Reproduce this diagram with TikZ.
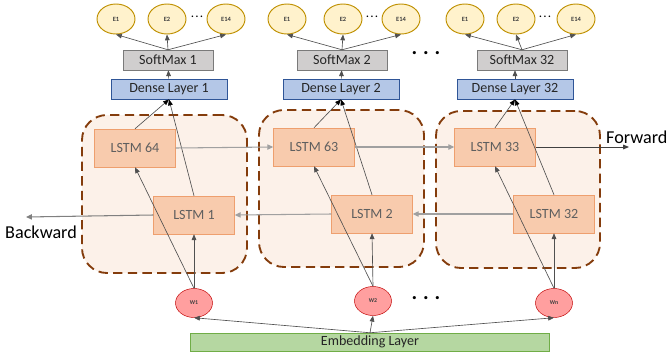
\documentclass[tikz,border=0pt]{standalone}
\usepackage{fontspec}
\setmainfont{Carlito}
\usetikzlibrary{arrows.meta,shapes.geometric}

\definecolor{lstmfill}{HTML}{F8CBAD}
\definecolor{lstmline}{HTML}{EE9F6E}
\definecolor{lstmtext}{HTML}{5F5F5F}
\definecolor{grpfill}{HTML}{FCF1E9}
\definecolor{grpline}{HTML}{843C0C}
\definecolor{densefill}{HTML}{B4C7E7}
\definecolor{denseline}{HTML}{2F5597}
\definecolor{smfill}{HTML}{D0CECE}
\definecolor{smline}{HTML}{7A7A7A}
\definecolor{efill}{HTML}{FFF2CC}
\definecolor{eline}{HTML}{BF9000}
\definecolor{wfill}{HTML}{FF9F9F}
\definecolor{wline}{HTML}{C00000}
\definecolor{embfill}{HTML}{B5D7A1}
\definecolor{embline}{HTML}{70AD47}
\definecolor{arrgray}{HTML}{505050}
\definecolor{arrlight}{HTML}{A0A0A0}

\newcommand{\pxu}{0.03cm}

\begin{document}
\begin{tikzpicture}[x=\pxu,y=-\pxu,
  grp/.style={draw=grpline,fill=grpfill,line width=1.6pt,dash pattern=on 8pt off 4.5pt,rounded corners=0.75cm,inner sep=0pt},
  lstm/.style={draw=lstmline,fill=lstmfill,inner sep=0pt,minimum width=81*\pxu,minimum height=38*\pxu,text=lstmtext,font=\fontsize{12}{14}\selectfont},
  dense/.style={draw=denseline,fill=densefill,line width=0.8pt,inner sep=0pt,minimum width=116*\pxu,minimum height=20*\pxu,text=black!85,font=\fontsize{12}{14}\selectfont},
  smax/.style={draw=smline,fill=smfill,inner sep=0pt,minimum width=90*\pxu,minimum height=20*\pxu,text=black!85,font=\fontsize{12}{14}\selectfont},
  enode/.style={ellipse,draw=eline,fill=efill,line width=0.8pt,inner sep=0pt,minimum width=38*\pxu,minimum height=30*\pxu,text=black!75,font=\fontsize{5.5}{6}\bfseries\selectfont},
  wnode/.style={ellipse,draw=wline,fill=wfill,inner sep=0pt,minimum width=37*\pxu,minimum height=29*\pxu,text=black!75,font=\fontsize{5}{6}\bfseries\selectfont},
  emb/.style={draw=embline,fill=embfill,inner sep=0pt,minimum width=359*\pxu,minimum height=18*\pxu,text=black!85,font=\fontsize{12}{14}\selectfont},
  arr/.style={draw=arrgray,line width=0.55pt,-{Triangle[length=5pt,width=4pt]}},
  uparr/.style={draw=arrgray,line width=0.55pt,-{Triangle[length=5pt,width=4pt,color=black]}},
  harr/.style={draw=arrlight,line width=0.9pt,-{Triangle[length=5pt,width=4.5pt]}},
  dots/.style={font=\fontsize{18}{18}\bfseries\selectfont,inner sep=0pt}]
  \useasboundingbox (0,0) rectangle (667,358);

  % dashed groups
  \node[grp,minimum width=165*\pxu,minimum height=158*\pxu] (grp1) at (164.5,194) {};
  \node[grp,minimum width=165*\pxu,minimum height=157*\pxu] (grp2) at (341.5,188.5) {};
  \node[grp,minimum width=164*\pxu,minimum height=157*\pxu] (grp3) at (518,189.5) {};

  % output ellipses
  \node[enode] (e1a) at (116,19) {E1};
  \node[enode] (e2a) at (167,19) {E2};
  \node[enode] (e14a) at (226,19) {E14};
  \node[enode] (e1b) at (287,19) {E1};
  \node[enode] (e2b) at (343,19) {E2};
  \node[enode] (e14b) at (401,19) {E14};
  \node[enode] (e1c) at (465,19) {E1};
  \node[enode] (e2c) at (516,19) {E2};
  \node[enode] (e14c) at (576,19) {E14};
  \node[font=\fontsize{9}{9}\bfseries\selectfont,inner sep=0pt] (dta) at (197,17) {.\,.\,.};
  \node[font=\fontsize{9}{9}\bfseries\selectfont,inner sep=0pt] (dtb) at (372,17) {.\,.\,.};
  \node[font=\fontsize{9}{9}\bfseries\selectfont,inner sep=0pt] (dtc) at (545,17) {.\,.\,.};

  % softmax and dense
  \node[smax] (sm1) at (168,60) {SoftMax 1};
  \node[smax] (sm2) at (342,60) {SoftMax 2};
  \node[smax] (sm32) at (522,60) {SoftMax 32};
  \node[dense] (dl1) at (169,89) {Dense Layer 1};
  \node[dense] (dl2) at (341,89) {Dense Layer 2};
  \node[dense] (dl32) at (515,89) {Dense Layer 32};
  \node[dots] (dtop) at (426,53) {.\hspace{5pt}.\hspace{5pt}.};

  % lstm cells
  \node[lstm] (l64) at (135,148) {LSTM 64};
  \node[lstm] (l1) at (194,215) {LSTM 1};
  \node[lstm] (l63) at (314,147) {LSTM 63};
  \node[lstm] (l2) at (372,214) {LSTM 2};
  \node[lstm] (l33) at (495,147) {LSTM 33};
  \node[lstm] (l32) at (554,214) {LSTM 32};

  % inputs
  \node[wnode] (w1) at (194,303) {W1};
  \node[wnode] (w2) at (373,301) {W2};
  \node[wnode] (wn) at (554,303) {Wn};
  \node[dots] (dbot) at (426,298) {.\hspace{5pt}.\hspace{5pt}.};
  \node[emb] (emb) at (370,342) {Embedding Layer};

  \coordinate (fwd) at (629,147);
  \coordinate (bwd) at (26,217);
  \node[anchor=west,inner sep=0pt,font=\fontsize{15.5}{18}\selectfont] (fwdtxt) at (606,137) {Forward};
  \node[anchor=west,inner sep=0pt,font=\fontsize{15.5}{18}\selectfont] (bwdtxt) at (5,232) {Backward};

  % connectors
  \foreach \s/\d/\e in {1/a/1,1/a/2,1/a/14,2/b/1,2/b/2,2/b/14,32/c/1,32/c/2,32/c/14}
    \draw[arr] (sm\s.north) -- (e\e\d.south);
  \draw[arr] (dl1) -- (sm1);
  \draw[arr] (dl2) -- (sm2);
  \draw[arr] (dl32.north) -- (sm32.south -| dl32.north);
  \draw[uparr] (l64.north) -- (dl1.south);
  \draw[uparr] (l1.north) -- (dl1.south);
  \draw[uparr] (l63.north) -- (dl2.south);
  \draw[uparr] (l2.north) -- (dl2.south);
  \draw[uparr] (l33.north) -- (dl32.south);
  \draw[uparr] (l32.north) -- (dl32.south);
  \draw[harr] (l64.east) -- (l63.west);
  \draw[harr] (l63.east) -- (l33.west);
  \draw[arr,line width=0.8pt,black!75] (l33.east) -- (fwd);
  \draw[harr] (l32.west) -- (l2.east);
  \draw[harr] (l2.west) -- (l1.east);
  \draw[harr,draw=arrlight!80!black] (l1.west) -- (bwd);
  \draw[arr] (w1.north) -- (l1.south);
  \draw[arr] (w1.north) -- (l64.south);
  \draw[arr] (w2.north) -- (l2.south);
  \draw[arr] (w2.north) -- (l63.south);
  \draw[arr] (wn.north) -- (l32.south);
  \draw[arr] (wn.north) -- (l33.south);
  \draw[arr] (emb.north) -- (w1.south);
  \draw[arr] (emb.north) -- (w2.south);
  \draw[arr] (emb.north) -- (wn.south);
\end{tikzpicture}
\end{document}
